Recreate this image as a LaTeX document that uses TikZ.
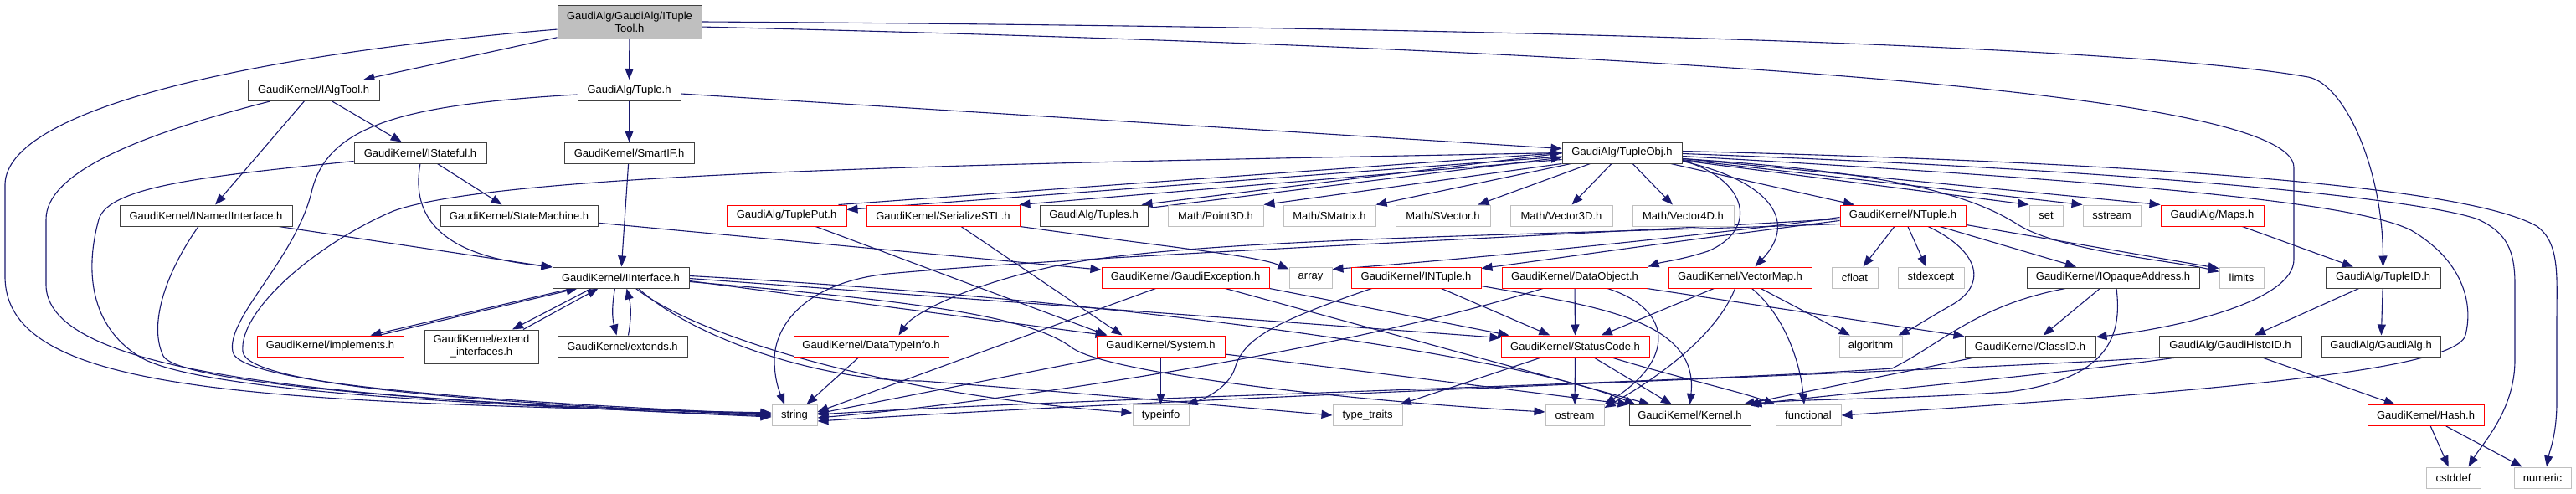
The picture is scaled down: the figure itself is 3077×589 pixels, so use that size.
\documentclass[tikz,border=0pt]{standalone}
\usepackage{fontspec}
\setmainfont{Liberation Sans}
\usetikzlibrary{arrows.meta}
\definecolor{edgeblue}{HTML}{191970}
\definecolor{dk}{HTML}{404040}
\definecolor{rd}{HTML}{FF0000}
\definecolor{gr}{HTML}{BFBFBF}
\pgfdeclarelayer{backdrop}
\pgfdeclarelayer{edges}
\pgfsetlayers{backdrop,edges,main}
\tikzset{
  box/.style={draw, rectangle, inner sep=0pt, minimum height=25pt, fill=white, line width=1pt, font=\fontsize{13}{15}\selectfont},
  nb/.style={box, draw=dk},
  nr/.style={box, draw=rd},
  ng/.style={box, draw=gr},
  conn/.style={draw=edgeblue, line width=1.1pt, -{Triangle[length=13pt,width=10pt]}},
}
\begin{document}
\begin{tikzpicture}[x=1pt,y=-1pt]
\useasboundingbox (0,0) rectangle (3077,589);
\begin{pgfonlayer}{backdrop}
\fill[white] (0,0) rectangle (3077,589);
\end{pgfonlayer}
% row 0-1
\node[nb, fill=gr, minimum width=172pt, minimum height=40pt, align=center] (itt) at (752,26) {GaudiAlg/GaudiAlg/ITuple\\Tool.h};
\node[nb, minimum width=157pt] (ialgtool) at (374.5,108) {GaudiKernel/IAlgTool.h};
\node[nb, minimum width=123pt] (tuple) at (751.5,108) {GaudiAlg/Tuple.h};
% row 2
\node[nb, minimum width=158pt] (istateful) at (502,182.5) {GaudiKernel/IStateful.h};
\node[nb, minimum width=155pt] (smartif) at (751.5,182.5) {GaudiKernel/SmartIF.h};
\node[nb, minimum width=143pt] (tupleobj) at (1937.5,182.5) {GaudiAlg/TupleObj.h};
% row 3
\node[nb, minimum width=206pt] (inamed) at (246,257.5) {GaudiKernel/INamedInterface.h};
\node[nb, minimum width=188pt] (statemachine) at (620,257.5) {GaudiKernel/StateMachine.h};
\node[nr, minimum width=143pt] (tupleput) at (939.5,257.5) {GaudiAlg/TuplePut.h};
\node[nr, minimum width=183pt] (serialize) at (1126.5,257.5) {GaudiKernel/SerializeSTL.h};
\node[nb, minimum width=129pt] (tuples) at (1306.5,257.5) {GaudiAlg/Tuples.h};
\node[ng, minimum width=114pt] (point3d) at (1452,257.5) {Math/Point3D.h};
\node[ng, minimum width=110pt] (smatrix) at (1588,257.5) {Math/SMatrix.h};
\node[ng, minimum width=113pt] (svector) at (1723.5,257.5) {Math/SVector.h};
\node[ng, minimum width=122pt] (vector3d) at (1865,257.5) {Math/Vector3D.h};
\node[ng, minimum width=121pt] (vector4d) at (2010.5,257.5) {Math/Vector4D.h};
\node[nr, minimum width=150pt] (ntuple) at (2273,257.5) {GaudiKernel/NTuple.h};
\node[ng, minimum width=40pt] (nset) at (2444,257.5) {set};
\node[ng, minimum width=69pt] (nsstream) at (2522.5,257.5) {sstream};
\node[nr, minimum width=123pt] (maps) at (2642.5,257.5) {GaudiAlg/Maps.h};
% row 4
\node[nb, minimum width=163pt] (iinterface) at (741.5,331.5) {GaudiKernel/IInterface.h};
\node[nr, minimum width=200pt] (gexc) at (1416,331.5) {GaudiKernel/GaudiException.h};
\node[ng, minimum width=51pt] (narray) at (1565.5,331.5) {array};
\node[nr, minimum width=155pt] (intuple) at (1691.5,331.5) {GaudiKernel/INTuple.h};
\node[nr, minimum width=174pt] (dataobj) at (1881,331.5) {GaudiKernel/DataObject.h};
\node[nr, minimum width=171pt] (vectormap) at (2078.5,331.5) {GaudiKernel/VectorMap.h};
\node[ng, minimum width=55pt] (ncfloat) at (2215.5,331.5) {cfloat};
\node[ng, minimum width=79pt] (nstdexcept) at (2306.5,331.5) {stdexcept};
\node[nb, minimum width=206pt] (iopaque) at (2524,331.5) {GaudiKernel/IOpaqueAddress.h};
\node[ng, minimum width=53pt] (nlimits) at (2677.5,331.5) {limits};
\node[nb, minimum width=137pt] (tupleid) at (2846.5,331.5) {GaudiAlg/TupleID.h};
% row 5
\node[nr, minimum width=175pt] (implements) at (394.5,413.5) {GaudiKernel/implements.h};
\node[nb, minimum width=136pt, minimum height=40pt, align=center] (extendif) at (575,414) {GaudiKernel/extend\\\_interfaces.h};
\node[nb, minimum width=155pt] (extends) at (743.5,413.5) {GaudiKernel/extends.h};
\node[nr, minimum width=185pt] (datatypeinfo) at (1040.5,413.5) {GaudiKernel/DataTypeInfo.h};
\node[nr, minimum width=153pt] (system) at (1386.5,413.5) {GaudiKernel/System.h};
\node[nr, minimum width=177pt] (statuscode) at (1881.5,413.5) {GaudiKernel/StatusCode.h};
\node[ng, minimum width=75pt] (nalgorithm) at (2234.5,413.5) {algorithm};
\node[nb, minimum width=156pt] (classid) at (2425,413.5) {GaudiKernel/ClassID.h};
\node[nb, minimum width=170pt] (histoid) at (2664,413.5) {GaudiAlg/GaudiHistoID.h};
\node[nb, minimum width=142pt] (gaudialg) at (2844,413.5) {GaudiAlg/GaudiAlg.h};
% row 6
\node[ng, minimum width=54pt] (nstring) at (949,496) {string};
\node[ng, minimum width=67pt] (ntypeinfo) at (1386.5,496) {typeinfo};
\node[ng, minimum width=83pt] (ntypetraits) at (1633.5,496) {type\_traits};
\node[ng, minimum width=70pt] (nostream) at (1881,496) {ostream};
\node[nb, minimum width=145pt] (kernel) at (2018.5,496) {GaudiKernel/Kernel.h};
\node[ng, minimum width=78pt] (nfunctional) at (2160,496) {functional};
\node[nr, minimum width=139pt] (hash) at (2897.5,496) {GaudiKernel/Hash.h};
% row 7
\node[ng, minimum width=65pt] (ncstddef) at (2930.5,570.5) {cstddef};
\node[ng, minimum width=68pt] (nnumeric) at (3037,570.5) {numeric};

\begin{pgfonlayer}{edges}
% ITupleTool
\draw[conn] (itt) -- (ialgtool);
\draw[conn] (itt) -- (tuple);
\draw[conn] (itt.east) .. controls (1800,32) and (2550,55) .. (2757,92) .. controls (2800,100) and (2846,200) .. (tupleid.north);
\draw[conn] (itt.356) .. controls (2000,60) and (2740,110) .. (2740,200) -- (2740,310) .. controls (2740,360) and (2600,392) .. ([yshift=-2pt]classid.north east);
\draw[conn] (itt.186) .. controls (300,65) and (8,130) .. (6,220) -- (6,330) .. controls (6,470) and (300,480) .. ([yshift=3pt]nstring.west);
% IAlgTool
\draw[conn] (ialgtool) -- (inamed);
\draw[conn] (ialgtool) -- (istateful);
\draw[conn] ([xshift=27pt]ialgtool.south west) .. controls (150,165) and (55,210) .. (55,262) -- (55,340) .. controls (55,440) and (350,478) .. ([yshift=2pt]nstring.west);
% Tuple
\draw[conn] (tuple) -- (smartif);
\draw[conn] ([yshift=-4pt]tuple.east) -- ([yshift=5pt]tupleobj.west);
\draw[conn] ([yshift=-5pt]tuple.west) .. controls (480,125) and (390,150) .. (372,230) .. controls (352,310) and (270,380) .. (278,420) .. controls (285,460) and (600,480) .. ([yshift=1pt]nstring.west);
% TupleObj -> string
\draw[conn] (tupleobj.west) .. controls (1200,195) and (600,205) .. (470,252) .. controls (380,290) and (285,370) .. (290,420) .. controls (295,462) and (600,482) .. (nstring.west);
% IStateful
\draw[conn] (istateful) -- (statemachine);
\draw[conn] (istateful.south) .. controls (492,250) and (515,305) .. (iinterface.north west);
\draw[conn] ([yshift=-10pt]istateful.west) .. controls (250,210) and (130,222) .. (118,262) .. controls (102,320) and (105,390) .. (170,428) .. controls (250,470) and (600,484) .. ([yshift=-1pt]nstring.west);
% SmartIF, INamedInterface, StateMachine
\draw[conn] (smartif) -- (iinterface);
\draw[conn] (inamed) -- (iinterface);
\draw[conn] ([xshift=-9pt]inamed.south) .. controls (195,330) and (178,390) .. (195,425) .. controls (215,462) and (600,484) .. ([yshift=-2pt]nstring.west);
\draw[conn] (statemachine) -- (gexc);
% TuplePut / TupleObj cycle
\draw[conn] ([yshift=-4.5pt]tupleobj.west) -- ([yshift=-6pt]tupleput.north east);
\draw[conn] ([xshift=-10pt]tupleput.north east) -- (tupleobj.west);
\draw[conn] (tupleput) -- ([xshift=-64pt]system.north);
% SerializeSTL
\draw[conn] ([yshift=-8pt]tupleobj.west) -- ([xshift=-1pt]serialize.north east);
\draw[conn] ([xshift=21.5pt]serialize.south) -- ([xshift=-46pt]system.north);
\draw[conn] (serialize.south east) .. controls (1400,296) and (1500,305) .. ([yshift=-3pt]narray.north west);
% Tuples cycle
\draw[conn] ([yshift=-0.5pt]tupleobj.west) -- ([xshift=-8pt]tuples.north east);
\draw[conn] ([yshift=-4pt]tuples.north east) -- ([yshift=-5.5pt]tupleobj.west);
% TupleObj -> Math etc
\draw[conn] (tupleobj.south west) -- (point3d.north east);
\draw[conn] ([xshift=11pt]tupleobj.south west) -- (smatrix.north east);
\draw[conn] ([xshift=34pt]tupleobj.south west) -- ([xshift=-15pt]svector.north east);
\draw[conn] (tupleobj) -- (vector3d);
\draw[conn] (tupleobj) -- (vector4d);
\draw[conn] (tupleobj) -- (ntuple);
\draw[conn] (tupleobj) -- (nset.north west);
\draw[conn] (tupleobj) -- (nsstream.north west);
\draw[conn] (tupleobj) -- (maps.north west);
\draw[conn] ([yshift=2pt]tupleobj.east) .. controls (2600,195) and (2950,225) .. (3030,270) .. controls (3058,290) and (3054,330) .. (3054,380) -- (3054,480) .. controls (3054,520) and (3045,540) .. ([xshift=5pt]nnumeric.north);
\draw[conn] ([yshift=-1pt]tupleobj.east) .. controls (2600,205) and (2900,240) .. (2960,262) .. controls (2995,278) and (3004,300) .. (3004,340) -- (3004,430) .. controls (3004,490) and (2965,530) .. ([xshift=18pt]ncstddef.north);
\draw[conn] ([yshift=-4pt]tupleobj.east) .. controls (2600,220) and (2820,245) .. (2880,275) .. controls (2940,310) and (2955,360) .. (2945,400) .. controls (2935,445) and (2600,470) .. (nfunctional.east);
\draw[conn] ([yshift=-7pt]tupleobj.east) .. controls (2250,205) and (2350,230) .. (2410,268) .. controls (2460,300) and (2600,312) .. ([yshift=-6pt]nlimits.north west);
\draw[conn] ([yshift=-10pt]tupleobj.east) .. controls (2110,215) and (2150,262) .. ([xshift=18pt]vectormap.north);
\draw[conn] ([yshift=-9pt]tupleobj.east) .. controls (2090,215) and (2100,275) .. (2040,300) .. controls (2010,310) and (1985,313) .. (dataobj.north east);
% NTuple
\draw[conn] (ntuple) -- (ncfloat);
\draw[conn] (ntuple) -- (nstdexcept);
\draw[conn] (ntuple) -- (iopaque);
\draw[conn] ([xshift=30pt]ntuple.south) .. controls (2365,300) and (2375,340) .. (2330,365) .. controls (2300,382) and (2285,392) .. ([xshift=-5pt]nalgorithm.north east);
\draw[conn] ([yshift=2pt]ntuple.south east) -- ([yshift=-2pt]nlimits.north west);
\draw[conn] ([yshift=-2pt]ntuple.west) .. controls (2050,280) and (1750,310) .. ([yshift=-3pt]narray.north east);
\draw[conn] ([yshift=-6pt]ntuple.west) .. controls (2000,288) and (1850,310) .. ([yshift=-2pt]intuple.north east);
\draw[conn] ([yshift=-10pt]ntuple.west) .. controls (1800,282) and (1400,285) .. (1250,320) .. controls (1150,343) and (1090,375) .. ([xshift=-60pt]datatypeinfo.north east);
\draw[conn] ([yshift=-4pt]ntuple.west) .. controls (1800,285) and (1300,305) .. (1060,327) .. controls (960,338) and (925,390) .. (925,430) .. controls (925,455) and (932,470) .. ([xshift=-12pt]nstring.north);
% IInterface cycles
\draw[conn] ([xshift=-58pt]iinterface.south) -- ([xshift=48pt]implements.north);
\draw[conn] ([xshift=58pt]implements.north) -- ([xshift=-52pt]iinterface.south);
\draw[conn] ([xshift=-35pt]iinterface.south) -- ([xshift=37pt]extendif.north);
\draw[conn] ([xshift=50pt]extendif.north) -- ([xshift=-27pt]iinterface.south);
\draw[conn] ([xshift=-7pt]iinterface.south) to[bend right=12] ([xshift=-7pt]extends.north);
\draw[conn] ([xshift=7pt]extends.north) to[bend right=12] ([xshift=7pt]iinterface.south);
% IInterface outgoing
\draw[conn] ([xshift=18pt]iinterface.south) .. controls (830,400) and (1050,470) .. ([yshift=3pt]ntypeinfo.west);
\draw[conn] ([xshift=21pt]iinterface.south) .. controls (830,405) and (980,455) .. (1100,455) .. controls (1300,470) and (1500,488) .. (ntypetraits.west);
\draw[conn] ([yshift=-5pt]iinterface.east) .. controls (1100,360) and (1230,378) .. (1280,415) .. controls (1320,445) and (1600,478) .. ([yshift=4pt]nostream.west);
\draw[conn] ([yshift=2pt]iinterface.east) .. controls (1300,355) and (1800,420) .. ([xshift=8pt]kernel.north west);
\draw[conn] ([yshift=-1pt]iinterface.east) -- ([yshift=-3pt]statuscode.north west);
\draw[conn] ([yshift=-4pt]iinterface.east) -- ([xshift=12pt]system.north west);
% GaudiException
\draw[conn] (gexc) -- ([yshift=4pt]nstring.east);
\draw[conn] (gexc.south east) -- ([xshift=10pt]statuscode.north west);
\draw[conn] (gexc) -- (kernel);
% System
\draw[conn] (system) -- (ntypeinfo);
\draw[conn] (system) -- ([yshift=2pt]nstring.east);
\draw[conn] (system) -- (kernel.north west);
% DataTypeInfo
\draw[conn] (datatypeinfo) -- (nstring);
% INTuple
\draw[conn] (intuple) -- (statuscode);
\draw[conn] ([yshift=-10pt]intuple.east) .. controls (1900,365) and (2030,380) .. (kernel.north);
\draw[conn] ([xshift=-53pt]intuple.south) .. controls (1520,385) and (1485,405) .. (1475,440) .. controls (1468,462) and (1440,476) .. ([xshift=-3pt]ntypeinfo.north east);
% DataObject
\draw[conn] (dataobj) -- (statuscode);
\draw[conn] ([xshift=-38pt]dataobj.south) .. controls (1600,420) and (1200,480) .. ([yshift=-3pt]nstring.east);
\draw[conn] ([xshift=39pt]dataobj.south) .. controls (2000,370) and (2000,430) .. (nostream.north east);
\draw[conn] (dataobj) -- (classid);
% VectorMap
\draw[conn] (vectormap) -- (statuscode);
\draw[conn] (vectormap) -- (nalgorithm);
\draw[conn] ([xshift=14pt]vectormap.south) .. controls (2130,375) and (2150,430) .. ([xshift=-5pt]nfunctional.north);
\draw[conn] ([xshift=-6pt]vectormap.south) .. controls (2055,390) and (2000,440) .. ([yshift=-4pt]nostream.north east);
% IOpaqueAddress
\draw[conn] (iopaque) -- (classid);
\draw[conn] ([xshift=4pt]iopaque.south) .. controls (2535,400) and (2520,452) .. (2400,468) .. controls (2250,478) and (2150,476) .. ([xshift=-4pt]kernel.north east);
\draw[conn] ([xshift=-57pt]iopaque.south) .. controls (2360,365) and (2320,410) .. (2260,440) .. controls (2000,458) and (1300,475) .. ([yshift=1pt]nstring.east);
% ClassID, StatusCode
\draw[conn] (classid) -- (kernel);
\draw[conn] (statuscode) -- (nostream);
\draw[conn] (statuscode) -- (kernel);
\draw[conn] (statuscode) -- (ntypetraits);
\draw[conn] ([xshift=42pt]statuscode.south) .. controls (2000,450) and (2080,468) .. (nfunctional.north west);
% TupleID, Maps, GaudiHistoID, Hash
\draw[conn] (tupleid) -- (histoid);
\draw[conn] (tupleid) -- (gaudialg);
\draw[conn] (maps) -- (tupleid);
\draw[conn] (histoid) -- (hash);
\draw[conn] ([xshift=25pt]histoid.south west) .. controls (2450,448) and (2200,470) .. (kernel.north east);
\draw[conn] ([xshift=8pt]histoid.south west) .. controls (2300,445) and (1500,470) .. ([yshift=-7pt]nstring.east);
\draw[conn] (hash) -- (ncstddef);
\draw[conn] (hash) -- (nnumeric);
\end{pgfonlayer}
\end{tikzpicture}
\end{document}
